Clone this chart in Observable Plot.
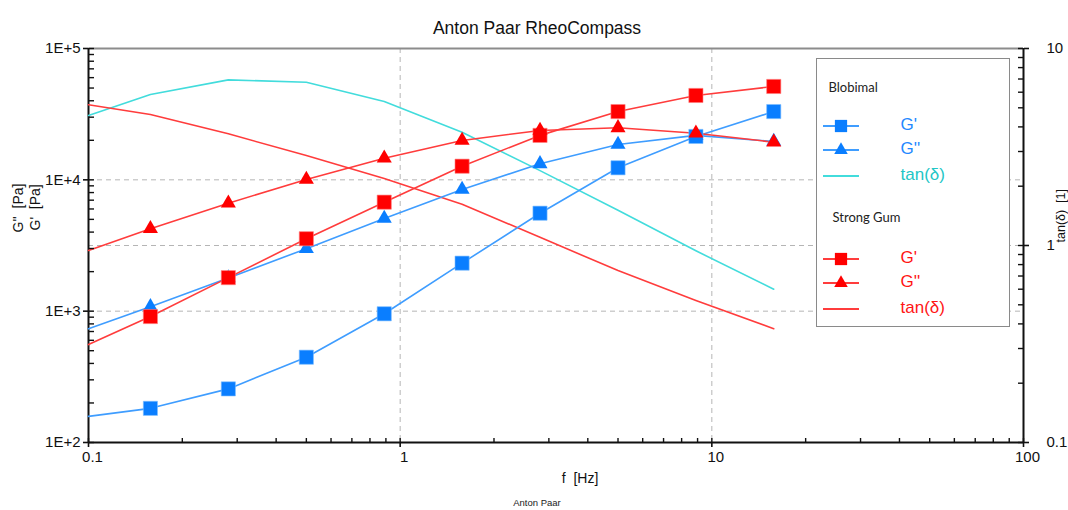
<!DOCTYPE html>
<html>
<head>
<meta charset="utf-8">
<script src="https://cdn.jsdelivr.net/npm/d3@7"></script>
<script src="https://cdn.jsdelivr.net/npm/@observablehq/plot@0.6"></script>
<style>
  html, body { margin: 0; padding: 0; background: #fff; }
  #wrap { position: relative; width: 1068px; height: 510px; overflow: hidden; font-family: "Liberation Sans", Arial, sans-serif; }
  #legend { position: absolute; left: 816px; top: 58px; width: 192px; height: 267px; border: 1.5px solid #8a8a8a; background: #fff; }
  .lg { position: absolute; white-space: nowrap; }
  .grp { font-family: Lato, "Open Sans", sans-serif; font-size: 13px; color: #222; }
  .lt { font-size: 17px; }
  .sw { position: absolute; }
</style>
</head>
<body>
<div id="wrap"></div>
<script>
// ---------- data ----------
const freq     = [0.1, 0.158, 0.281, 0.5, 0.889, 1.58, 2.81, 5, 8.89, 15.8];
const blobG1   = [158, 182, 256, 446, 955, 2320, 5570, 12350, 21400, 33100];
const blobG2   = [734, 1080, 1790, 2990, 5080, 8440, 13240, 18580, 21800, 19600];
const blobTan  = [4.57, 5.84, 6.93, 6.74, 5.38, 3.76, 2.40, 1.51, 0.94, 0.60];
const gumG1    = [557, 910, 1800, 3560, 6760, 12700, 21800, 33100, 43900, 51400];
const gumG2    = [2900, 4250, 6640, 10060, 14620, 19950, 23770, 24900, 22640, 19350];
const gumTan   = [5.18, 4.62, 3.69, 2.86, 2.19, 1.62, 1.10, 0.746, 0.526, 0.378];

const xMajor   = [0.1, 1, 10, 100];
const xLabels  = ["0.1", "1", "10", "100"];
const gMajor   = [1e2, 1e3, 1e4, 1e5];
const gLabels  = ["1E+2", "1E+3", "1E+4", "1E+5"];
const tanMajor = [0.1, 1, 10];
const tanLabels= ["0.1", "1", "10"];

const title = "Anton Paar RheoCompass";
const xLabel = "f  [Hz]";
const yLabel1 = "G''  [Pa]";
const yLabel2 = "G'  [Pa]";
const tanLabel = "tan(δ)  [1]";
const footer = "Anton Paar";

// ---------- colours ----------
const C = {
  blueLine: "#3f9dff", blueMark: "#0a7eff",
  cyan: "#42dcdc",
  redLine: "#ff3c3c", redMark: "#ff0000",
  blueText: "#2288ff", cyanText: "#22c6c6", redText: "#ff1515"
};

// tan(δ) axis (0.1 … 10) shares the frame with the G axis (1E+2 … 1E+5)
const toG = t => 10 ** (2 + 1.5 * (Math.log10(t) + 1));

const minorOf = (lo, hi) => {
  const out = [];
  for (let e = lo; e < hi; e++) for (let m = 1; m <= 9; m++) out.push(m * 10 ** e);
  out.push(10 ** hi);
  return out;
};
const xTicksAll = minorOf(-1, 2);
const gTicksAll = minorOf(2, 5);
const tanTicksAll = minorOf(-1, 1).map(toG);

const series = (ys) => freq.map((f, i) => ({f, v: ys[i]}));
const sBG1 = series(blobG1), sBG2 = series(blobG2), sGG1 = series(gumG1), sGG2 = series(gumG2);
const sBT = series(blobTan.map(toG)), sGT = series(gumTan.map(toG));
const marks = (s) => s.slice(1);

const font = `"Liberation Sans", Arial, sans-serif`;

const chart = Plot.plot({
  width: 1068, height: 510,
  marginLeft: 88, marginRight: 45, marginTop: 48, marginBottom: 68,
  style: {fontFamily: font, fontSize: "13px", color: "#111", background: "#fff", overflow: "visible"},
  x: {type: "log", domain: [0.1, 100], axis: null},
  y: {type: "log", domain: [1e2, 1e5], axis: null},
  marks: [
    // grid
    Plot.ruleX([1, 10], {stroke: "#b5b5b5", strokeDasharray: "5,4", strokeWidth: 1}),
    Plot.ruleY([1e3, 1e4, toG(1)], {stroke: "#b5b5b5", strokeDasharray: "5,4", strokeWidth: 1}),
    // frame lines
    Plot.ruleY([1e5], {stroke: "#8c8c8c", strokeWidth: 2}),
    Plot.ruleY([1e2], {stroke: "#111", strokeWidth: 2}),
    Plot.ruleX([0.1, 100], {stroke: "#111", strokeWidth: 2}),
    // series lines
    Plot.line(sBT, {x: "f", y: "v", stroke: C.cyan, strokeWidth: 1.6}),
    Plot.line(sGT, {x: "f", y: "v", stroke: C.redLine, strokeWidth: 1.6}),
    Plot.line(sBG1, {x: "f", y: "v", stroke: C.blueLine, strokeWidth: 1.6}),
    Plot.line(sBG2, {x: "f", y: "v", stroke: C.blueLine, strokeWidth: 1.6}),
    Plot.line(sGG1, {x: "f", y: "v", stroke: C.redLine, strokeWidth: 1.6}),
    Plot.line(sGG2, {x: "f", y: "v", stroke: C.redLine, strokeWidth: 1.6}),
    // markers
    Plot.dot(marks(sBG1), {x: "f", y: "v", symbol: "square", r: 8, fill: C.blueMark, stroke: "#7fbfff", strokeWidth: 0.6}),
    Plot.dot(marks(sBG2), {x: "f", y: "v", symbol: "triangle", r: 5.6, fill: C.blueMark}),
    Plot.dot(marks(sGG1), {x: "f", y: "v", symbol: "square", r: 8, fill: C.redMark, stroke: "#ff8080", strokeWidth: 0.6}),
    Plot.dot(marks(sGG2), {x: "f", y: "v", symbol: "triangle", r: 5.6, fill: C.redMark}),
    // x axis: labels, outward major ticks, inward ticks
    Plot.axisX({anchor: "bottom", ticks: xMajor, tickSize: 0, tickPadding: 9, dx: 4,
      tickFormat: d => xLabels[xMajor.indexOf(d)], fontSize: 15, label: null}),
    Plot.axisX({anchor: "bottom", ticks: xMajor, tickSize: 5, text: null, label: null, strokeWidth: 1.6}),
    Plot.axisX({anchor: "top", frameAnchor: "bottom", ticks: xTicksAll, tickSize: 5, text: null, label: null, strokeWidth: 1.4}),
    // left G axis
    Plot.axisY({anchor: "left", ticks: gMajor, tickSize: 5, tickPadding: 3, fontSize: 15,
      tickFormat: d => gLabels[gMajor.indexOf(d)], label: null, strokeWidth: 1.6}),
    Plot.axisY({anchor: "right", frameAnchor: "left", ticks: gTicksAll, tickSize: 5, text: null, label: null, strokeWidth: 1.4}),
    // right tan axis
    Plot.axisY({anchor: "right", ticks: tanMajor.map(toG), tickSize: 5, tickPadding: 18, fontSize: 15,
      tickFormat: d => tanLabels[tanMajor.map(toG).findIndex(v => Math.abs(v - d) / v < 1e-6)], label: null, strokeWidth: 1.6}),
    Plot.axisY({anchor: "left", frameAnchor: "right", ticks: tanTicksAll, tickSize: 5, text: null, label: null, strokeWidth: 1.4}),
    // titles
    Plot.text([title], {frameAnchor: "top", dx: -19, dy: -27, fontSize: 17.5, fill: "#111"}),
    Plot.text([xLabel], {frameAnchor: "bottom", dx: 24, dy: 40, fontSize: 14, fill: "#111"}),
    Plot.text([footer], {frameAnchor: "bottom", dx: -19, dy: 63, fontSize: 9.5, fill: "#222"}),
    Plot.text([yLabel1], {frameAnchor: "left", dx: -70, dy: -13, rotate: -90, textAnchor: "start", fontSize: 14, fill: "#111"}),
    Plot.text([yLabel2], {frameAnchor: "left", dx: -53, dy: -15, rotate: -90, textAnchor: "start", fontSize: 14, fill: "#111"}),
    Plot.text([tanLabel], {frameAnchor: "right", dx: 37, dy: -3, rotate: -90, textAnchor: "start", fontSize: 12.5, fill: "#111"})
  ]
});

const wrap = document.getElementById("wrap");
wrap.appendChild(chart);

// ---------- legend ----------
const legendGroups = [
  {name: "Blobimal", top: 88, rows: [
    {label: "G'", kind: "square", line: C.blueLine, mark: C.blueMark, text: C.blueText, y: 126},
    {label: "G''", kind: "triangle", line: C.blueLine, mark: C.blueMark, text: C.blueText, y: 150},
    {label: "tan(δ)", kind: "line", line: C.cyan, mark: C.cyan, text: C.cyanText, y: 176}
  ]},
  {name: "Strong Gum", top: 218, rows: [
    {label: "G'", kind: "square", line: C.redLine, mark: C.redMark, text: C.redText, y: 259},
    {label: "G''", kind: "triangle", line: C.redLine, mark: C.redMark, text: C.redText, y: 283},
    {label: "tan(δ)", kind: "line", line: C.redLine, mark: C.redMark, text: C.redText, y: 309}
  ]}
];
const legend = document.createElement("div");
legend.id = "legend";
wrap.appendChild(legend);
const L0 = 816 + 1.5, T0 = 58 + 1.5;
for (const g of legendGroups) {
  const h = document.createElement("div");
  h.className = "lg grp";
  h.textContent = g.name;
  h.style.left = (g.name === "Blobimal" ? 829 : 833) - L0 + "px";
  h.style.top = (g.top - 9) - T0 + "px";
  legend.appendChild(h);
  for (const r of g.rows) {
    const ns = "http://www.w3.org/2000/svg";
    const svg = document.createElementNS(ns, "svg");
    svg.setAttribute("width", 40); svg.setAttribute("height", 20);
    svg.setAttribute("class", "sw");
    svg.style.left = 821 - L0 + "px";
    svg.style.top = r.y - 10 - T0 + "px";
    const ln = document.createElementNS(ns, "line");
    ln.setAttribute("x1", 2); ln.setAttribute("x2", 38); ln.setAttribute("y1", 10); ln.setAttribute("y2", 10);
    ln.setAttribute("stroke", r.line); ln.setAttribute("stroke-width", 1.8);
    svg.appendChild(ln);
    if (r.kind !== "line") {
      const p = document.createElementNS(ns, "path");
      p.setAttribute("d", d3.symbol(r.kind === "square" ? d3.symbolSquare : d3.symbolTriangle, r.kind === "square" ? 150 : 80)());
      p.setAttribute("transform", "translate(20,10)");
      p.setAttribute("fill", r.mark);
      svg.appendChild(p);
    }
    legend.appendChild(svg);
    const t = document.createElement("div");
    t.className = "lg lt";
    t.textContent = r.label;
    t.style.color = r.text;
    t.style.left = 901 - L0 + "px";
    t.style.top = r.y - 11 - T0 + "px";
    legend.appendChild(t);
  }
}
</script>
</body>
</html>
